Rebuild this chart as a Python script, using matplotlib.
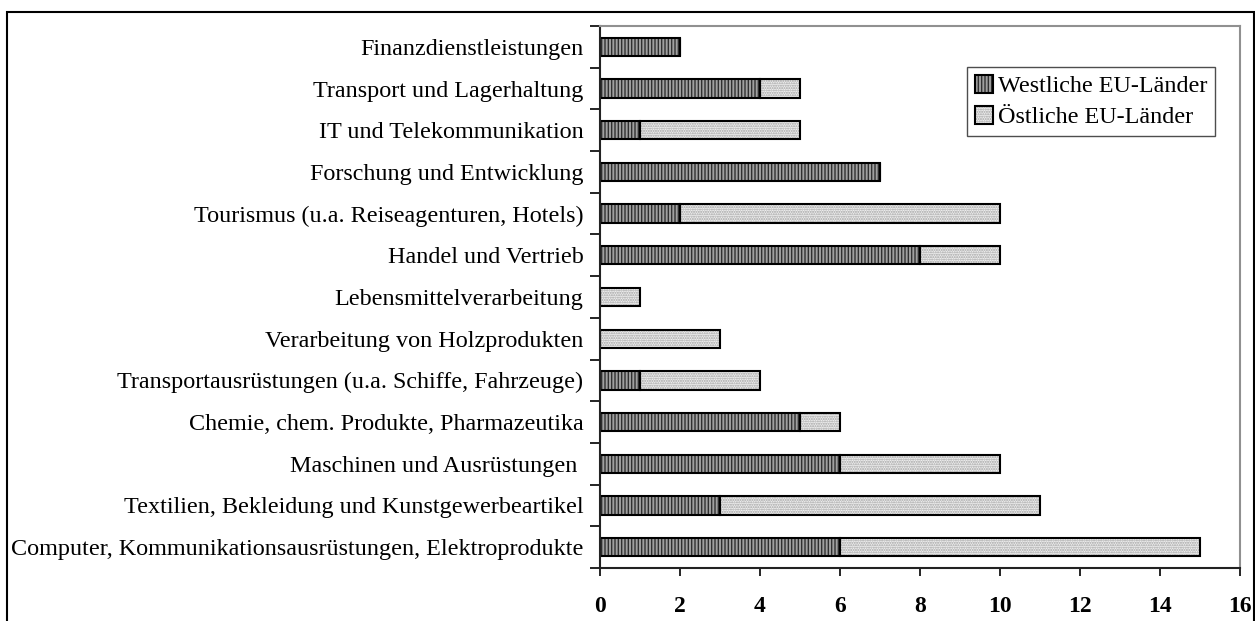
import matplotlib
matplotlib.use("Agg")
import matplotlib.pyplot as plt
from matplotlib.patches import Patch, Rectangle
from matplotlib.legend_handler import HandlerTuple

categories = [
    "Finanzdienstleistungen",
    "Transport und Lagerhaltung",
    "IT und Telekommunikation",
    "Forschung und Entwicklung",
    "Tourismus (u.a. Reiseagenturen, Hotels)",
    "Handel und Vertrieb",
    "Lebensmittelverarbeitung",
    "Verarbeitung von Holzprodukten",
    "Transportausrüstungen (u.a. Schiffe, Fahrzeuge)",
    "Chemie, chem. Produkte, Pharmazeutika",
    "Maschinen und Ausrüstungen ",
    "Textilien, Bekleidung und Kunstgewerbeartikel",
    "Computer, Kommunikationsausrüstungen, Elektroprodukte",
]
west = [2, 4, 1, 7, 2, 8, 0, 0, 1, 5, 6, 3, 6]
east = [0, 1, 4, 0, 8, 2, 1, 3, 3, 1, 4, 8, 9]
series_names = ["Westliche EU-Länder", "Östliche EU-Länder"]
x_ticks = [0, 2, 4, 6, 8, 10, 12, 14, 16]

plt.rcParams['font.family'] = ['Liberation Serif', 'DejaVu Serif']
plt.rcParams['hatch.linewidth'] = 1.0

fig = plt.figure(figsize=(12.55, 6.21), dpi=100)
ax = fig.add_axes([600/1255, 1-568/621, 640/1255, 542/621])

n = len(categories)
ypos = [n - 1 - i for i in range(n)]
h = 0.44

west_fc, west_hc = '#a0a0a0', '#303030'
east_fc, east_hc = '#f0f0f0', '#a0a0a0'

ax.barh(ypos, west, height=h, color=west_fc, edgecolor=west_hc, hatch='|||||', linewidth=0)
ax.barh(ypos, east, left=west, height=h, color=east_fc, edgecolor=east_hc, hatch='.......', linewidth=0)
ax.barh(ypos, west, height=h, fill=False, edgecolor='black', linewidth=1.5)
ax.barh(ypos, east, left=west, height=h, fill=False, edgecolor='black', linewidth=1.5)

ax.set_xlim(0, 16)
ax.set_ylim(-0.5, n - 0.5)
ax.set_xticks(x_ticks)
ax.set_xticklabels([str(t) for t in x_ticks], fontweight='bold', fontsize=17)
ax.set_yticks(ypos)
ax.set_yticklabels(categories, fontsize=17.4)
ax.tick_params(axis='y', length=0, pad=12)
ax.tick_params(axis='x', direction='out', length=6, width=1.2, pad=14)
ax.set_yticks([i - 0.5 for i in range(n + 1)], minor=True)
ax.tick_params(axis='y', which='minor', length=7, width=1.2, direction='out')

for s in ['left', 'bottom']:
    ax.spines[s].set_color('#222222')
    ax.spines[s].set_linewidth(1.5)
for s in ['top', 'right']:
    ax.spines[s].set_color('#909090')
    ax.spines[s].set_linewidth(1.5)

handles = [
    (Patch(facecolor=west_fc, edgecolor=west_hc, hatch='|||||', linewidth=0),
     Patch(fill=False, edgecolor='black', linewidth=1.5)),
    (Patch(facecolor=east_fc, edgecolor=east_hc, hatch='.......', linewidth=0),
     Patch(fill=False, edgecolor='black', linewidth=1.5)),
]
leg = ax.legend(handles, series_names, loc='upper right', bbox_to_anchor=(0.961, 0.924),
                handler_map={tuple: HandlerTuple(ndivide=1, pad=0)},
                fontsize=17.4, frameon=True, fancybox=False, handlelength=0.75, handleheight=0.75,
                handletextpad=0.2, borderpad=0.33, labelspacing=0.35, borderaxespad=0)
leg.get_frame().set_edgecolor('#222222')
leg.get_frame().set_linewidth(1.0)

fig.patches.append(Rectangle((7/1255, -0.05), 1247/1255, 1.05 - 12/621, transform=fig.transFigure,
                             fill=False, edgecolor='black', linewidth=1.5))

fig.savefig("out.png", dpi=100)
